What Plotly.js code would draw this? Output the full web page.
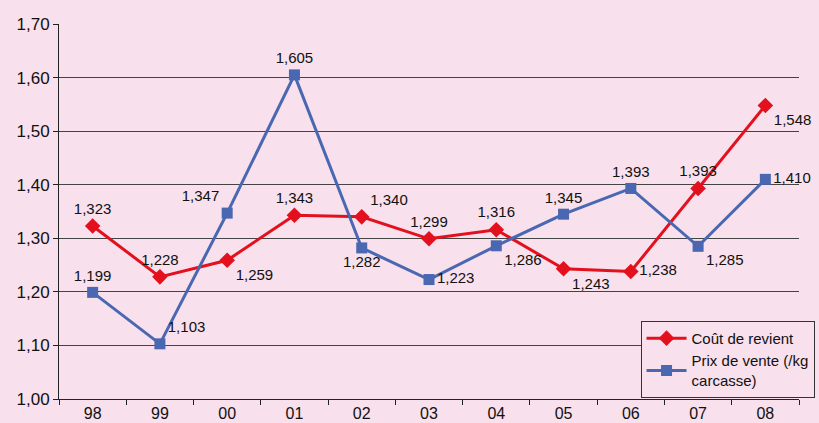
<!DOCTYPE html>
<html>
<head>
<meta charset="utf-8">
<script src="https://cdn.plot.ly/plotly-3.0.1.min.js"></script>
<style>
html,body{margin:0;padding:0;background:#f8e0ec;}
#chart{width:819px;height:423px;}
</style>
</head>
<body>
<div id="chart"></div>
<script>
const years = ["98","99","00","01","02","03","04","05","06","07","08"];
const coutRevient = [1.323,1.228,1.259,1.343,1.340,1.299,1.316,1.243,1.238,1.393,1.548];
const prixVente = [1.199,1.103,1.347,1.605,1.282,1.223,1.286,1.345,1.393,1.285,1.410];
const seriesNames = ["Coût de revient","Prix de vente (/kg<br>carcasse)"];

const coutPos = ["top center","top center","bottom right","top center","top right","top center","top center","bottom right","middle right","top center","bottom right"];
const prixPos = ["top center","top right","top left","top center","bottom center","middle right","bottom right","top center","top center","bottom right","middle right"];

const fmt = v => v.toFixed(3).replace('.', ',');

const traces = [
  {
    x: years, y: coutRevient, name: seriesNames[0], type: 'scatter', mode: 'lines+markers+text',
    line: {color: '#e3101e', width: 3},
    marker: {symbol: 'diamond', size: 12, color: '#e3101e'},
    text: coutRevient.map(fmt), textposition: coutPos,
    textfont: {family: 'Liberation Sans, Arial, sans-serif', size: 15, color: '#111'},
    cliponaxis: false
  },
  {
    x: years, y: prixVente, name: seriesNames[1], type: 'scatter', mode: 'lines+markers+text',
    line: {color: '#4a67b2', width: 3},
    marker: {symbol: 'square', size: 11, color: '#4a67b2'},
    text: prixVente.map(fmt), textposition: prixPos,
    textfont: {family: 'Liberation Sans, Arial, sans-serif', size: 15, color: '#111'},
    cliponaxis: false
  }
];

const layout = {
  width: 819, height: 423,
  margin: {l: 59, r: 20, t: 24, b: 24, autoexpand: false},
  paper_bgcolor: '#f8e0ec', plot_bgcolor: '#f8e0ec',
  separators: ',.',
  font: {family: 'Liberation Sans, Arial, sans-serif', color: '#111'},
  showlegend: true,
  legend: {
    x: 1.021, y: 0.003, xanchor: 'right', yanchor: 'bottom',
    bgcolor: '#f8e0ec', bordercolor: '#333', borderwidth: 1,
    font: {size: 15, color: '#111'}, tracegroupgap: 6, itemwidth: 40
  },
  xaxis: {
    type: 'category', range: [-0.5, 10.5],
    showline: true, linecolor: '#222', linewidth: 1,
    ticks: 'outside', tickson: 'boundaries', ticklen: 5, tickcolor: '#222',
    showgrid: false, zeroline: false,
    tickfont: {size: 16, color: '#111'}
  },
  yaxis: {
    range: [1.0, 1.7], dtick: 0.1, tick0: 1.0, tickformat: '.2f',
    showline: true, linecolor: '#222', linewidth: 1,
    ticks: 'outside', ticklen: 5, tickcolor: '#222',
    showgrid: true, gridcolor: '#444', gridwidth: 1, zeroline: false,
    tickfont: {size: 17, color: '#111'}
  }
};

Plotly.newPlot('chart', traces, layout, {displayModeBar: false, staticPlot: true});
</script>
</body>
</html>
